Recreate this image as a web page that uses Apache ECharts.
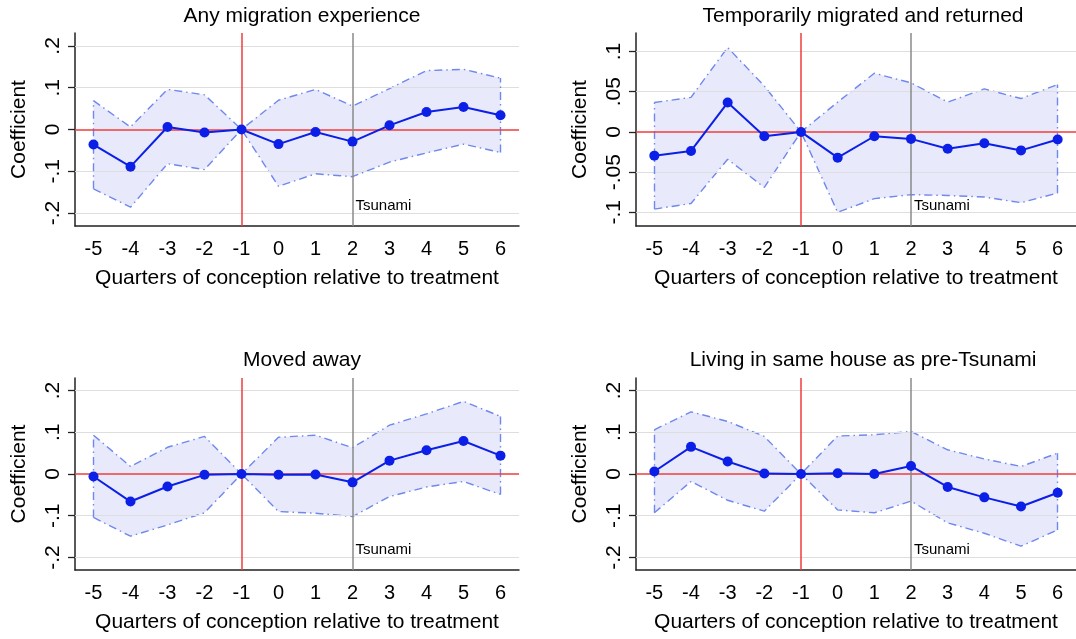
<!DOCTYPE html>
<html>
<head>
<meta charset="utf-8">
<script src="https://cdn.jsdelivr.net/npm/echarts@6/dist/echarts.min.js"></script>
<style>
  html, body { margin: 0; padding: 0; background: #fff; overflow: hidden; }
  #main { width: 1076px; height: 639px; }
</style>
</head>
<body>
<div id="main"></div>
<script>
// quarters of conception relative to treatment
var quarters = ["-5", "-4", "-3", "-2", "-1", "0", "1", "2", "3", "4", "5", "6"];

// Any migration experience
var anyCoef  = [-0.036, -0.089, 0.006, -0.007, 0, -0.035, -0.006, -0.029, 0.010, 0.042, 0.054, 0.034];
var anyLower = [-0.142, -0.186, -0.082, -0.096, 0, -0.136, -0.106, -0.113, -0.078, -0.056, -0.035, -0.055];
var anyUpper = [0.069, 0.006, 0.096, 0.083, 0, 0.070, 0.096, 0.056, 0.098, 0.141, 0.144, 0.123];

// Temporarily migrated and returned
var tempCoef  = [-0.0295, -0.0237, 0.0365, -0.0054, 0, -0.032, -0.0054, -0.0087, -0.021, -0.014, -0.023, -0.0095];
var tempLower = [-0.096, -0.089, -0.034, -0.069, 0, -0.100, -0.083, -0.078, -0.079, -0.081, -0.088, -0.076];
var tempUpper = [0.0365, 0.043, 0.105, 0.057, 0, 0.037, 0.073, 0.061, 0.037, 0.0535, 0.0415, 0.059];

// Moved away
var movedCoef  = [-0.006, -0.066, -0.030, -0.002, 0, -0.002, -0.001, -0.020, 0.032, 0.057, 0.079, 0.044];
var movedLower = [-0.104, -0.149, -0.122, -0.093, 0, -0.090, -0.094, -0.102, -0.054, -0.031, -0.018, -0.049];
var movedUpper = [0.093, 0.018, 0.064, 0.090, 0, 0.088, 0.093, 0.063, 0.117, 0.144, 0.174, 0.138];

// Living in same house as pre-Tsunami
var sameCoef  = [0.006, 0.065, 0.030, 0.001, 0, 0.002, 0.000, 0.019, -0.031, -0.056, -0.078, -0.045];
var sameLower = [-0.093, -0.018, -0.063, -0.089, 0, -0.086, -0.093, -0.065, -0.117, -0.142, -0.173, -0.134];
var sameUpper = [0.106, 0.149, 0.126, 0.090, 0, 0.091, 0.094, 0.102, 0.058, 0.036, 0.018, 0.050];

var titles = ["Any migration experience", "Temporarily migrated and returned",
              "Moved away", "Living in same house as pre-Tsunami"];
var yTicksWide = [-0.2, -0.1, 0, 0.1, 0.2];
var yTicksNarrow = [-0.1, -0.05, 0, 0.05, 0.1];
var treatQuarter = "-1";
var tsunamiQuarter = "2";

var panels = [
  { coef: anyCoef, lower: anyLower, upper: anyUpper, ticks: yTicksWide, yMin: -0.231, yMax: 0.231 },
  { coef: tempCoef, lower: tempLower, upper: tempUpper, ticks: yTicksNarrow, yMin: -0.117, yMax: 0.123 },
  { coef: movedCoef, lower: movedLower, upper: movedUpper, ticks: yTicksWide, yMin: -0.23, yMax: 0.23 },
  { coef: sameCoef, lower: sameLower, upper: sameUpper, ticks: yTicksWide, yMin: -0.23, yMax: 0.23 }
];

// right-hand panels run slightly past the picture edge, as in the original
var gridBoxes = [
  { left: 75, top: 33, width: 444, height: 193 },
  { left: 636, top: 33, width: 444, height: 193 },
  { left: 75, top: 378, width: 444, height: 192 },
  { left: 636, top: 378, width: 444, height: 192 }
];

var FONT = "Liberation Sans";
var lineBlue = "#0B1FE6";
var edgeBlue = "#6F88EE";
var refRed = "#F03C3C";
var dashDot = [8, 4, 1.5, 4];

function stataFmt(v) {
  if (Math.abs(v) < 1e-9) return "0";
  return String(+v.toFixed(3)).replace(/^(-?)0\./, "$1.");
}

function refLine(i, item, color, z) {
  return {
    type: "line", xAxisIndex: i, yAxisIndex: i, data: [], silent: true, z: z,
    markLine: {
      silent: true, symbol: ["none", "none"], label: { show: false },
      lineStyle: { color: color, type: "solid", width: 1.5, opacity: 1 },
      emphasis: { disabled: true },
      data: [item]
    }
  };
}

var option = {
  animation: false,
  textStyle: { fontFamily: FONT, color: "#000" },
  title: [], grid: [], xAxis: [], yAxis: [], series: []
};

panels.forEach(function (p, i) {
  var g = gridBoxes[i];
  option.grid.push(g);
  option.title.push({
    text: titles[i],
    left: g.left + g.width / 2,
    top: g.top - (i < 2 ? 32 : 33),
    textAlign: "center",
    textStyle: { fontFamily: FONT, fontSize: 21, fontWeight: "normal", color: "#000" }
  });
  option.xAxis.push({
    type: "category",
    gridIndex: i,
    data: quarters,
    boundaryGap: true,
    name: "Quarters of conception relative to treatment",
    nameLocation: "middle",
    nameGap: 42,
    nameTextStyle: { fontFamily: FONT, fontSize: 21, color: "#000" },
    axisLine: { onZero: false, lineStyle: { color: "#222", width: 1.5 } },
    axisTick: { alignWithLabel: true, length: 8, lineStyle: { color: "#222", width: 1.3 } },
    axisLabel: { fontFamily: FONT, fontSize: 20, color: "#000", margin: 13 },
    splitLine: { show: false }
  });
  option.yAxis.push({
    type: "value",
    gridIndex: i,
    min: p.yMin,
    max: p.yMax,
    name: "Coefficient",
    nameLocation: "middle",
    nameGap: 45,
    nameTextStyle: { fontFamily: FONT, fontSize: 21, color: "#000" },
    axisLine: { show: true, onZero: false, lineStyle: { color: "#222", width: 1.5 } },
    axisTick: { show: true, length: 7, customValues: p.ticks, lineStyle: { color: "#222", width: 1.3 } },
    axisLabel: { fontFamily: FONT, fontSize: 21, color: "#000", rotate: 90, margin: 11,
                 customValues: p.ticks, formatter: stataFmt },
    splitLine: { show: false }
  });

  var width = p.upper.map(function (u, k) { return u - p.lower[k]; });
  var tsunamiY = p.yMin + 0.105 * (p.yMax - p.yMin);
  var last = quarters.length - 1;

  // light gridlines at the non-zero y ticks (zero gets the red line)
  option.series.push({
    type: "line", xAxisIndex: i, yAxisIndex: i, data: [], silent: true, z: 0,
    markLine: {
      silent: true, symbol: ["none", "none"], label: { show: false },
      lineStyle: { color: "#DEDEDE", type: "solid", width: 1.2 },
      data: p.ticks.filter(function (t) { return t !== 0; })
                   .map(function (t) { return { yAxis: t }; })
    }
  });
  // band base (invisible) + band fill, stacked
  option.series.push({
    type: "line", xAxisIndex: i, yAxisIndex: i, data: p.lower,
    stack: "band" + i, stackStrategy: "all",
    symbol: "none", lineStyle: { opacity: 0 }, silent: true, z: 1
  });
  option.series.push({
    type: "line", xAxisIndex: i, yAxisIndex: i, data: width,
    stack: "band" + i, stackStrategy: "all",
    symbol: "none", lineStyle: { opacity: 0 }, silent: true, z: 2,
    areaStyle: { color: "rgba(100,110,230,0.15)", opacity: 1 }
  });
  // CI edges
  option.series.push({
    type: "line", xAxisIndex: i, yAxisIndex: i, data: p.upper,
    symbol: "none", silent: true, z: 3,
    lineStyle: { color: edgeBlue, width: 1.4, type: dashDot }
  });
  option.series.push({
    type: "line", xAxisIndex: i, yAxisIndex: i, data: p.lower,
    symbol: "none", silent: true, z: 3,
    lineStyle: { color: edgeBlue, width: 1.4, type: dashDot },
    markLine: {
      silent: true, symbol: ["none", "none"], label: { show: false },
      lineStyle: { color: edgeBlue, width: 1.4, type: dashDot },
      data: [
        [{ coord: [quarters[0], p.lower[0]] }, { coord: [quarters[0], p.upper[0]] }],
        [{ coord: [quarters[last], p.lower[last]] }, { coord: [quarters[last], p.upper[last]] }]
      ]
    }
  });
  // reference lines: zero, treatment quarter, tsunami quarter
  option.series.push(refLine(i, { yAxis: 0 }, refRed, 4));
  option.series.push(refLine(i, { xAxis: treatQuarter }, refRed, 4));
  var tsu = refLine(i, { xAxis: tsunamiQuarter }, "#8A8A8A", 4);
  tsu.markPoint = {
    silent: true, symbol: "circle", symbolSize: 0,
    label: { show: true, position: "right", distance: 3, formatter: "Tsunami",
             fontFamily: FONT, fontSize: 15, color: "#000" },
    data: [{ coord: [tsunamiQuarter, tsunamiY] }]
  };
  option.series.push(tsu);
  // coefficients
  option.series.push({
    type: "line", xAxisIndex: i, yAxisIndex: i, data: p.coef,
    symbol: "circle", symbolSize: 10, z: 5,
    itemStyle: { color: lineBlue },
    lineStyle: { color: lineBlue, width: 2 }
  });
});

var myChart = echarts.init(document.getElementById("main"));
myChart.setOption(option);
</script>
</body>
</html>
